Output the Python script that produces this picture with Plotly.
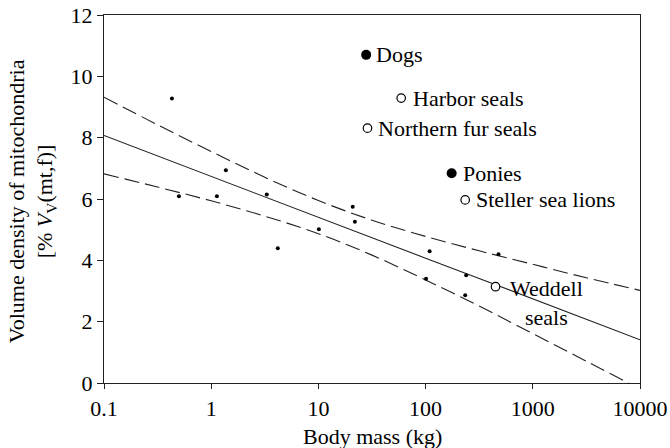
import math
import plotly.graph_objects as go

# ---- data ----
small_mass = [0.43, 0.50, 1.13, 1.37, 3.30, 4.18, 10.1, 20.9, 21.9, 101, 109, 234, 239, 479]
small_vd = [9.28, 6.09, 6.09, 6.94, 6.15, 4.39, 5.01, 5.75, 5.26, 3.40, 4.30, 2.86, 3.51, 4.20]

filled_names = ["Dogs", "Ponies"]
filled_mass = [27.9, 175]
filled_vd = [10.70, 6.84]

open_names = ["Harbor seals", "Northern fur seals", "Steller sea lions", "Weddell<br>seals"]
open_mass = [59.2, 28.7, 234, 449]
open_vd = [9.29, 8.31, 5.97, 3.14]

fit_mass = [0.1, 0.316, 1, 3.16, 10, 31.6, 100, 316, 1000, 3160, 10000]
fit_mean = [8.07, 7.40, 6.74, 6.07, 5.41, 4.74, 4.07, 3.41, 2.74, 2.07, 1.41]
fit_upper = [9.32, 8.42, 7.55, 6.71, 5.95, 5.31, 4.78, 4.31, 3.87, 3.43, 3.02]
fit_lower = [6.82, 6.39, 5.94, 5.44, 4.87, 4.17, 3.36, 2.51, 1.61, 0.71, -0.20]

x_ticks = [0.1, 1, 10, 100, 1000, 10000]
x_ticktext = ["0.1", "1", "10", "100", "1000", "10000"]
y_ticks = [0, 2, 4, 6, 8, 10, 12]

# label offsets (pixels) — styling only
label_shift = {"Dogs": (8, 0), "Ponies": (9, 0), "Harbor seals": (10, 0),
               "Northern fur seals": (9, 0), "Steller sea lions": (9, 0),
               "Weddell<br>seals": (12, -16)}

FONT = "Times New Roman"
LINE_C = "#222222"

fig = go.Figure()

fig.add_trace(go.Scatter(x=fit_mass, y=fit_upper, mode="lines",
                         line=dict(color=LINE_C, width=1.1, dash="15px,6px", shape="spline"),
                         showlegend=False, hoverinfo="skip"))
fig.add_trace(go.Scatter(x=fit_mass, y=fit_mean, mode="lines",
                         line=dict(color=LINE_C, width=1.1),
                         showlegend=False, hoverinfo="skip"))
fig.add_trace(go.Scatter(x=fit_mass, y=fit_lower, mode="lines",
                         line=dict(color=LINE_C, width=1.1, dash="15px,6px", shape="spline"),
                         showlegend=False, hoverinfo="skip"))

fig.add_trace(go.Scatter(x=small_mass, y=small_vd, mode="markers",
                         marker=dict(color="black", size=4),
                         showlegend=False))
fig.add_trace(go.Scatter(x=filled_mass, y=filled_vd, mode="markers",
                         marker=dict(color="black", size=10, line=dict(width=0)),
                         showlegend=False))
fig.add_trace(go.Scatter(x=open_mass, y=open_vd, mode="markers",
                         marker=dict(color="white", size=8.5, line=dict(color="black", width=1.2)),
                         showlegend=False))

annotations = []
for names, xs, ys in [(filled_names, filled_mass, filled_vd), (open_names, open_mass, open_vd)]:
    for n, xv, yv in zip(names, xs, ys):
        dx, dy = label_shift[n]
        annotations.append(dict(x=math.log10(xv), y=yv, xref="x", yref="y", text=n,
                                showarrow=False, xanchor="left", yanchor="middle",
                                align="center", xshift=dx, yshift=dy,
                                font=dict(family=FONT, size=22, color="black")))

annotations.append(dict(x=-0.1353, y=0.495, xref="paper", yref="paper",
                        text="Volume density of mitochondria<br>[% <i>V</i><sub>V</sub>(mt,f)]",
                        textangle=-90, showarrow=False, xanchor="center", yanchor="middle",
                        font=dict(family=FONT, size=22, color="black")))
annotations.append(dict(x=0.5, y=-0.146, xref="paper", yref="paper",
                        text="Body mass (kg)", showarrow=False,
                        xanchor="center", yanchor="middle",
                        font=dict(family=FONT, size=22, color="black")))

fig.update_layout(
    width=670, height=448,
    margin=dict(l=104, r=30, t=15, b=65, autoexpand=False),
    paper_bgcolor="white", plot_bgcolor="white",
    font=dict(family=FONT, size=22, color="black"),
    annotations=annotations,
    showlegend=False,
)
fig.update_xaxes(type="log", range=[-1, 4], tickvals=x_ticks, ticktext=x_ticktext,
                 showgrid=False, zeroline=False, showline=True, mirror=True,
                 linecolor=LINE_C, linewidth=1.2, ticks="outside", ticklen=5,
                 tickwidth=1, tickcolor=LINE_C, automargin=False,
                 ticklabeloverflow="allow",
                 tickfont=dict(family=FONT, size=22, color="black"))
fig.update_yaxes(range=[0, 12], tickvals=y_ticks, showgrid=False, zeroline=False,
                 showline=True, mirror=True, linecolor=LINE_C, linewidth=1.2,
                 ticks="outside", ticklen=6, tickwidth=1, tickcolor=LINE_C,
                 automargin=False, ticklabeloverflow="allow",
                 tickfont=dict(family=FONT, size=22, color="black"))

fig.write_html("out.html", config={"displayModeBar": False},
               post_script="document.body.style.margin='0';")
